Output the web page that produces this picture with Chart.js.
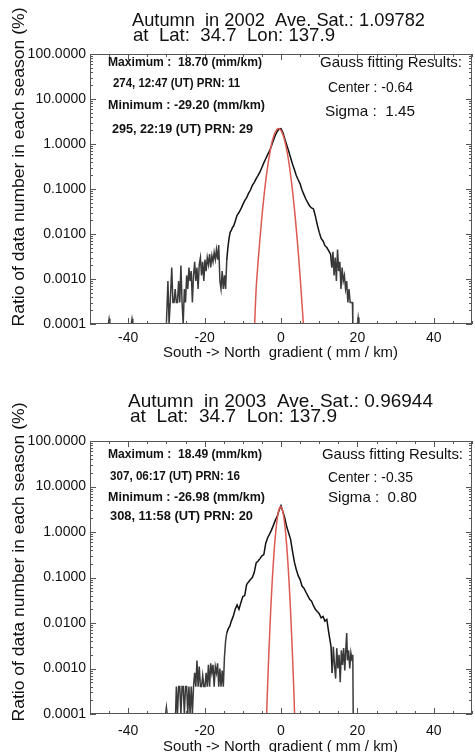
<!DOCTYPE html>
<html>
<head>
<meta charset="utf-8">
<script src="https://cdn.jsdelivr.net/npm/chart.js@4.4.1/dist/chart.umd.min.js"></script>
<style>
html, body { margin: 0; padding: 0; background: #fff; }
#wrap { position: relative; width: 475px; height: 752px; overflow: hidden; }
canvas { position: absolute; left: 0; }
#c1 { top: 0; }
#c2 { top: 376px; }
</style>
</head>
<body>
<div id="wrap">
<canvas id="c1" width="475" height="376"></canvas>
<canvas id="c2" width="475" height="376"></canvas>
</div>
<script>
// axis ticks
const yTicks = [0.0001, 0.001, 0.01, 0.1, 1, 10, 100];
const xTicks = [-40, -20, 0, 20, 40];

// 2002 histogram (gradient mm/km -> % of data)
const grad2002 = [-50, -45.2, -45.0, -44.8, -39.2, -39.0, -38.8, -30.0,
  -29.6, -29.3, -29.0, -28.6, -28.3, -28.0, -27.7, -27.4, -27.1, -26.8, -26.5, -26.2, -25.9, -25.6, -25.3, -25.0,
  -24.7, -24.4, -24.1, -23.8, -23.5, -23.2, -22.9, -22.6, -22.3, -22.0, -21.7, -21.4, -21.1, -20.8, -20.5, -20.2,
  -19.9, -19.6, -19.3, -19.0, -18.7, -18.4, -18.1, -17.8, -17.5, -17.2, -16.9, -16.6, -16.3, -16.0, -15.7, -15.4,
  -15.1, -14.8, -14.5, -14.2, -13.9, -13.6, -13.3, -13.0, -12.7, -12.4, -12.0, -11.5, -11.0, -10.5, -10.0, -9.5,
  -9.0, -8.5, -8.0, -7.5, -7.0, -6.5, -6.0, -5.5, -5.0, -4.5, -4.0, -3.5, -3.0, -2.5, -2.0, -1.5, -1.0, -0.5,
  0.0, 0.5, 1.0, 1.5, 2.0, 2.5, 3.0, 3.5, 4.0, 4.5, 5.0, 5.5, 6.0, 6.5, 7.0, 7.5, 8.0, 8.5, 9.0, 9.5, 10.0,
  10.5, 11.0, 11.5, 12.0, 12.5, 13.0, 13.3, 13.6, 13.9, 14.2, 14.5, 14.8, 15.1, 15.4, 15.7, 16.0, 16.3, 16.6,
  16.9, 17.2, 17.5, 17.8, 18.1, 18.4, 18.7, 18.8, 20.0, 20.2, 20.4, 50];
const ratio2002 = [0.0001, 0.0001, 0.00013, 0.0001, 0.0001, 0.00013, 0.0001, 0.0001,
  0.0009, 0.0001, 0.0003, 0.0018, 0.0003, 0.0003, 0.0006, 0.0003, 0.0003, 0.0009, 0.0003, 0.0020, 0.0003, 0.0001, 0.0006, 0.0003,
  0.0012, 0.0006, 0.0018, 0.0009, 0.0015, 0.0003, 0.0012, 0.0024, 0.0009, 0.0018, 0.0006, 0.0021, 0.0030, 0.0012, 0.0024, 0.0009,
  0.0027, 0.0015, 0.0030, 0.0021, 0.0036, 0.0018, 0.0033, 0.0024, 0.0039, 0.0027, 0.0045, 0.0027, 0.0057, 0.0009, 0.0006, 0.0015,
  0.0006, 0.0012, 0.0006, 0.0026, 0.0050, 0.0080, 0.0110, 0.0120, 0.0140, 0.0150, 0.0190, 0.0260, 0.0300, 0.0360, 0.0450, 0.0550,
  0.0640, 0.0800, 0.0950, 0.1200, 0.1400, 0.1700, 0.2000, 0.2400, 0.3000, 0.3800, 0.4700, 0.5800, 0.7000, 0.9000, 1.2000, 1.5500, 1.9000, 2.1500,
  2.2000, 1.8000, 1.3000, 0.9500, 0.7000, 0.5000, 0.3600, 0.2700, 0.2000, 0.1600, 0.1300, 0.0950, 0.0750, 0.0600, 0.0500, 0.0420, 0.0380, 0.0360, 0.0250, 0.0160, 0.0110,
  0.0080, 0.0070, 0.0055, 0.0050, 0.0042, 0.0035, 0.0018, 0.0040, 0.0012, 0.0030, 0.0009, 0.0045, 0.0015, 0.0024, 0.0006, 0.0018, 0.0009, 0.0012,
  0.0006, 0.0009, 0.0003, 0.0006, 0.0003, 0.0003, 0.0003, 0.0001, 0.0001, 0.00014, 0.0001, 0.0001];

// 2002 gauss fit
const gaussX2002 = [-6.9, -6.5, -6.0, -5.5, -5.0, -4.5, -4.0, -3.5, -3.0, -2.5, -2.0, -1.5, -1.0, -0.64, -0.3, 0.0,
  0.5, 1.0, 1.5, 2.0, 2.5, 3.0, 3.5, 4.0, 4.5, 5.0, 5.5, 5.85];
const gaussY2002 = [0.0001, 0.00062, 0.0024, 0.008, 0.024, 0.064, 0.15, 0.31, 0.58, 0.97, 1.42, 1.85, 2.13, 2.2, 2.14, 2.0,
  1.61, 1.16, 0.74, 0.42, 0.21, 0.094, 0.037, 0.013, 0.0041, 0.00114, 0.00028, 0.0001];

// 2003 histogram
const grad2003 = [-50, -30.2, -30.0, -29.8, -27.6, -27.4, -27.1, -26.8, -26.5, -26.2, -25.9, -25.6, -25.3, -25.0,
  -24.7, -24.4, -24.1, -23.8, -23.5, -23.2, -22.9, -22.6, -22.3, -22.0, -21.7, -21.4, -21.1, -20.8, -20.5, -20.2,
  -19.9, -19.6, -19.3, -19.0, -18.7, -18.4, -18.1, -17.8, -17.5, -17.2, -16.9, -16.6, -16.3, -16.0, -15.7, -15.4,
  -15.1, -14.8, -14.5, -14.2, -13.8, -13.4, -13.0, -12.5, -12.0, -11.5, -11.0, -10.5, -10.0, -9.5, -9.0, -8.5,
  -8.0, -7.5, -7.0, -6.5, -6.0, -5.5, -5.0, -4.5, -4.0, -3.5, -3.0, -2.5, -2.0, -1.5, -1.0, -0.5, 0.0,
  0.5, 1.0, 1.5, 2.0, 2.5, 3.0, 3.5, 4.0, 4.5, 5.0, 5.5, 6.0, 6.5, 7.0, 7.5, 8.0, 8.5, 9.0, 9.5, 10.0,
  10.5, 11.0, 11.5, 12.0, 12.4, 12.8, 13.1, 13.4, 13.7, 14.0, 14.3, 14.6, 14.9, 15.2, 15.5, 15.8, 16.1, 16.4,
  16.7, 17.0, 17.2, 17.4, 17.7, 18.0, 18.3, 18.6, 18.8, 18.9, 50];
const ratio2003 = [0.0001, 0.0001, 0.00014, 0.0001, 0.0001, 0.0004, 0.0001, 0.0004, 0.0004, 0.0001, 0.0004, 0.0004, 0.0001, 0.0004,
  0.0004, 0.0001, 0.0004, 0.0001, 0.0004, 0.0001, 0.0004, 0.0008, 0.0004, 0.0015, 0.0004, 0.0011, 0.0004, 0.0004, 0.0007, 0.0004,
  0.0004, 0.0008, 0.0004, 0.0012, 0.0004, 0.0013, 0.0008, 0.0012, 0.0004, 0.0011, 0.0008, 0.0013, 0.0004, 0.0010, 0.0004, 0.0009,
  0.0004, 0.0018, 0.0040, 0.0060, 0.0075, 0.0085, 0.0110, 0.0140, 0.0200, 0.0250, 0.0200, 0.0280, 0.0380, 0.0400, 0.0700, 0.0800,
  0.0900, 0.1000, 0.1300, 0.2100, 0.2300, 0.2600, 0.3000, 0.3200, 0.5600, 0.7500, 0.9000, 1.1000, 1.4000, 1.8000, 2.2000, 3.0000, 3.8000,
  2.8000, 2.0000, 1.3000, 0.9500, 0.7000, 0.3800, 0.2200, 0.1500, 0.1100, 0.0900, 0.0650, 0.0580, 0.0480, 0.0400, 0.0330, 0.0300, 0.0240, 0.0200, 0.0180, 0.0160,
  0.0130, 0.0140, 0.0110, 0.0120, 0.0070, 0.0043, 0.0030, 0.0008, 0.0030, 0.0012, 0.0006, 0.0028, 0.0010, 0.0020, 0.0005, 0.0025, 0.0012, 0.0028,
  0.0009, 0.0030, 0.0060, 0.0015, 0.0025, 0.0010, 0.0022, 0.0015, 0.0020, 0.0001, 0.0001];

// 2003 gauss fit
const gaussX2003 = [-3.76, -3.5, -3.25, -3.0, -2.75, -2.5, -2.25, -2.0, -1.75, -1.5, -1.25, -1.0, -0.75, -0.5, -0.25, -0.1,
  0.05, 0.3, 0.55, 0.8, 1.05, 1.3, 1.55, 1.8, 2.05, 2.3, 2.55, 2.8, 3.05, 3.3, 3.56];
const gaussY2003 = [0.0001, 0.00043, 0.00155, 0.005, 0.0149, 0.04, 0.097, 0.214, 0.43, 0.78, 1.28, 1.91, 2.59, 3.18, 3.53, 3.6,
  3.53, 3.18, 2.59, 1.91, 1.28, 0.78, 0.43, 0.214, 0.097, 0.04, 0.0149, 0.005, 0.00155, 0.00043, 0.0001];

const FONT = "'Liberation Sans', Arial, Helvetica, sans-serif";

function pts(xs, ys) {
  return xs.map((x, i) => ({ x: x, y: ys[i] }));
}

// draw text squeezed/stretched to a given width
function fitText(ctx, text, x, y, w, font, rot) {
  ctx.save();
  ctx.font = font;
  ctx.textBaseline = 'middle';
  ctx.textAlign = 'left';
  const m = ctx.measureText(text).width;
  ctx.translate(x, y);
  if (rot) ctx.rotate(-Math.PI / 2);
  ctx.scale(w / m, 1);
  ctx.fillText(text, rot ? -m / 2 : 0, 0);
  ctx.restore();
}

function makePanel(id, p) {
  const deco = {
    id: 'deco' + id,
    afterDraw(chart) {
      const ctx = chart.ctx;
      const a = chart.chartArea;
      const xs = chart.scales.x, ys = chart.scales.y;
      ctx.save();
      ctx.strokeStyle = '#555';
      ctx.lineWidth = 1;
      ctx.strokeRect(a.left + 0.5, a.top + 0.5, a.right - a.left - 1, a.bottom - a.top - 1);
      ctx.beginPath();
      for (let v = -50; v <= 50; v += 5) {
        const px = Math.round(xs.getPixelForValue(v)) + 0.5;
        const len = (v % 20 === 0) ? 6 : 3;
        ctx.moveTo(px, a.bottom); ctx.lineTo(px, a.bottom - len);
        ctx.moveTo(px, a.top); ctx.lineTo(px, a.top + len);
      }
      for (let d = -4; d <= 2; d++) {
        for (let m = 1; m < 10; m++) {
          const v = m * Math.pow(10, d);
          if (v > 100) break;
          const py = Math.round(ys.getPixelForValue(v)) + 0.5;
          const len = m === 1 ? 6 : 3;
          ctx.moveTo(a.left, py); ctx.lineTo(a.left + len, py);
          ctx.moveTo(a.right, py); ctx.lineTo(a.right - len, py);
        }
      }
      ctx.stroke();
      ctx.fillStyle = '#111';
      p.texts.forEach(t => fitText(ctx, t[0], t[1], t[2], t[3], t[4], t[5]));
      ctx.restore();
    }
  };

  return new Chart(document.getElementById(id), {
    type: 'scatter',
    data: {
      datasets: [
        {
          data: pts(p.gx, p.gy),
          showLine: true,
          borderColor: '#dc5a52',
          borderWidth: 1.5,
          pointRadius: 0,
          tension: 0.3
        },
        {
          data: pts(p.hx, p.hy),
          showLine: true,
          borderColor: '#111',
          borderWidth: 1.5,
          pointRadius: 0,
          tension: 0,
          segment: {
            borderColor: c => (c.p0.parsed.x < -14.3 || c.p0.parsed.x > 13.2) ? '#3a3a3a' : '#111'
          }
        }
      ]
    },
    options: {
      responsive: false,
      animation: false,
      layout: { padding: { top: p.top, right: 3, left: 0, bottom: 0 } },
      plugins: { legend: { display: false }, tooltip: { enabled: false } },
      scales: {
        x: {
          type: 'linear',
          min: -50,
          max: 50,
          afterBuildTicks: s => { s.ticks = xTicks.map(v => ({ value: v })); },
          afterFit: s => { s.height = p.axisH; },
          grid: { display: false, drawTicks: false },
          border: { display: false },
          ticks: { color: '#111', font: { family: FONT, size: 14 }, padding: p.xPad, maxRotation: 0, autoSkip: false }
        },
        y: {
          type: 'logarithmic',
          min: 0.0001,
          max: 100,
          afterBuildTicks: s => { s.ticks = yTicks.map(v => ({ value: v })); },
          afterFit: s => { s.width = 90; },
          grid: { display: false, drawTicks: false },
          border: { display: false },
          ticks: {
            color: '#111', font: { family: FONT, size: 14 }, padding: 4, autoSkip: false,
            callback: v => Number(v).toFixed(4)
          }
        }
      }
    },
    plugins: [deco]
  });
}

const f = (s, b) => (b ? 'bold ' : '') + s + 'px ' + FONT;
const yTitle = 'Ratio of data number in each season (%)';
const xTitle = 'South -> North  gradient ( mm / km)';

makePanel('c1', {
  hx: grad2002, hy: ratio2002, gx: gaussX2002, gy: gaussY2002,
  top: 54, axisH: 52, xPad: 6,
  texts: [
    ['Autumn  in 2002  Ave. Sat.: 1.09782', 132, 21, 293, f(19)],
    ['at  Lat:  34.7  Lon: 137.9', 133, 36, 202, f(19)],
    ['Maximum :  18.70 (mm/km)', 108, 63, 154, f(12, true)],
    ['274, 12:47 (UT) PRN: 11', 113, 84, 127, f(12, true)],
    ['Minimum : -29.20 (mm/km)', 108, 106, 157, f(12, true)],
    ['295, 22:19 (UT) PRN: 29', 112, 130, 141, f(12, true)],
    ['Gauss fitting Results:', 320, 63, 142, f(15)],
    ['Center : -0.64', 328, 88, 85, f(15)],
    ['Sigma :  1.45', 325, 112, 90, f(15)],
    [yTitle, 20, 167, 319, f(16), true],
    [xTitle, 163, 353, 235, f(15)]
  ]
});

makePanel('c2', {
  hx: grad2003, hy: ratio2003, gx: gaussX2003, gy: gaussY2003,
  top: 65, axisH: 38, xPad: 9,
  texts: [
    ['Autumn  in 2003  Ave. Sat.: 0.96944', 128, 26, 305, f(19)],
    ['at  Lat:  34.7  Lon: 137.9', 130, 41, 207, f(19)],
    ['Maximum :  18.49 (mm/km)', 108, 79, 154, f(12, true)],
    ['307, 06:17 (UT) PRN: 16', 110, 101, 130, f(12, true)],
    ['Minimum : -26.98 (mm/km)', 108, 122, 157, f(12, true)],
    ['308, 11:58 (UT) PRN: 20', 110, 141, 143, f(12, true)],
    ['Gauss fitting Results:', 322, 79, 141, f(15)],
    ['Center : -0.35', 328, 102, 85, f(15)],
    ['Sigma :  0.80', 328, 122, 89, f(15)],
    [yTitle, 20, 186, 319, f(16), true],
    [xTitle, 163, 371, 235, f(15)]
  ]
});
</script>
</body>
</html>
